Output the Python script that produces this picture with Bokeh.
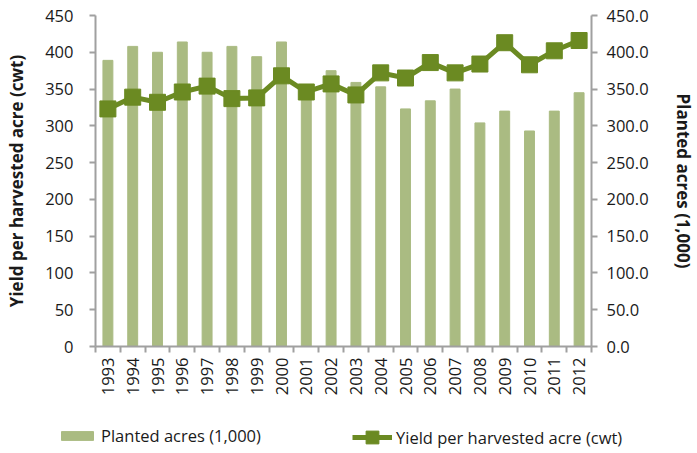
from bokeh.plotting import figure
from bokeh.layouts import column
from bokeh.models import (Range1d, LinearAxis, FixedTicker, NumeralTickFormatter,
                          Legend, LegendItem, ColumnDataSource)
from bokeh.embed import file_html
from bokeh.resources import INLINE
import math

years = [1993, 1994, 1995, 1996, 1997, 1998, 1999, 2000, 2001, 2002,
         2003, 2004, 2005, 2006, 2007, 2008, 2009, 2010, 2011, 2012]
planted_acres = [389, 408, 400, 414, 400, 408, 394, 414, 345, 375,
                 359, 353, 323, 334, 350, 304, 320, 293, 320, 345]
yield_cwt = [323, 339, 332, 346, 354, 337, 338, 368, 346, 357,
             342, 372, 365, 386, 372, 384, 413, 383, 402, 416]
y_ticks = [0, 50, 100, 150, 200, 250, 300, 350, 400, 450]
series_names = ["Planted acres (1,000)", "Yield per harvested acre (cwt)"]

FONT = "Open Sans"
BAR = "#AABB82"
LINE = "#6B8A22"
AX = "#A0A0A0"
TXT = "#1a1a1a"
TICK_FS = "16.5px"
LAB_FS = "17px"

src = ColumnDataSource(dict(year=years, acres=planted_acres, yld=yield_cwt))

p = figure(width=697, height=405, output_backend="svg", toolbar_location=None,
           x_range=Range1d(years[0] - 0.5, years[-1] + 0.5),
           y_range=Range1d(0, 450),
           min_border_left=95, min_border_right=102, min_border_top=15, min_border_bottom=59)
p.frame_align = False
p.outline_line_color = None
p.xgrid.grid_line_color = None
p.ygrid.grid_line_color = None

p.extra_y_ranges = {"acres": Range1d(0, 450)}

p.vbar(x="year", top="acres", width=0.4, source=src, y_range_name="acres",
       fill_color=BAR, line_color=BAR)
p.line(x="year", y="yld", source=src, line_color=LINE, line_width=5)
p.scatter(x="year", y="yld", source=src, marker="square", size=16,
          fill_color=LINE, line_color=LINE)

# x axis
xa = p.xaxis[0]
xa.ticker = FixedTicker(ticks=years, minor_ticks=[y - 0.5 for y in years] + [years[-1] + 0.5])
xa.major_label_orientation = math.pi / 2
xa.major_tick_out = 0
xa.major_tick_in = 0
xa.minor_tick_out = 6
xa.minor_tick_in = 0
xa.minor_tick_line_color = AX
xa.minor_tick_line_width = 2
xa.axis_line_color = AX
xa.axis_line_width = 2
xa.major_label_text_font = FONT
xa.major_label_text_font_size = TICK_FS
xa.major_label_text_color = TXT
xa.major_label_standoff = 5

# left axis
ya = p.yaxis[0]
ya.ticker = FixedTicker(ticks=y_ticks)
ya.axis_label = "Yield per harvested acre (cwt)"
ya.axis_label_text_font = FONT
ya.axis_label_text_font_style = "bold"
ya.axis_label_text_font_size = LAB_FS
ya.axis_label_text_color = TXT
ya.axis_label_standoff = 14
ya.major_label_text_font = FONT
ya.major_label_text_font_size = TICK_FS
ya.major_label_text_color = TXT
ya.major_label_standoff = 16
ya.major_tick_out = 6
ya.major_tick_in = 0
ya.minor_tick_out = 0
ya.minor_tick_in = 0
ya.major_tick_line_color = AX
ya.major_tick_line_width = 2
ya.axis_line_color = AX
ya.axis_line_width = 2

# right axis
ra = LinearAxis(y_range_name="acres", ticker=FixedTicker(ticks=y_ticks),
                formatter=NumeralTickFormatter(format="0.0"))
ra.axis_label = "Planted acres (1,000)"
ra.axis_label_text_font = FONT
ra.axis_label_text_font_style = "bold"
ra.axis_label_text_font_size = LAB_FS
ra.axis_label_text_color = TXT
ra.axis_label_standoff = 20
ra.major_label_text_font = FONT
ra.major_label_text_font_size = TICK_FS
ra.major_label_text_color = TXT
ra.major_label_standoff = 9
ra.major_tick_out = 6
ra.major_tick_in = 0
ra.minor_tick_out = 0
ra.minor_tick_in = 0
ra.major_tick_line_color = AX
ra.major_tick_line_width = 2
ra.axis_line_color = AX
ra.axis_line_width = 2
p.add_layout(ra, "right")

# legend strip below the chart (its glyphs fall outside its own ranges)
lg = figure(width=697, height=48, output_backend="svg", toolbar_location=None,
            x_range=Range1d(0, 1), y_range=Range1d(0, 1),
            x_axis_location=None, y_axis_location=None,
            min_border_left=0, min_border_right=0, min_border_top=0, min_border_bottom=0)
lg.frame_align = False
lg.grid.visible = False
lg.outline_line_color = None
lb = lg.vbar(x="year", top="acres", width=0.4, source=src, fill_color=BAR, line_color=BAR)
ll = lg.line(x="year", y="yld", source=src, line_color=LINE, line_width=5)
lm = lg.scatter(x="year", y="yld", source=src, marker="square", size=14,
                fill_color=LINE, line_color=LINE)
common = dict(orientation="horizontal", label_standoff=4, glyph_width=40,
              label_text_font=FONT, label_text_font_size=TICK_FS,
              label_text_color=TXT, border_line_color=None,
              background_fill_alpha=0, padding=0, margin=0)
leg1 = Legend(items=[LegendItem(label=series_names[0], renderers=[lb])],
              location=(57, 6), glyph_height=11, **common)
leg2 = Legend(items=[LegendItem(label=series_names[1], renderers=[ll, lm])],
              location=(352, 0), glyph_height=32, **common)
lg.add_layout(leg1, "center")
lg.add_layout(leg2, "center")

layout = column(p, lg, spacing=0)
open("out.html", "w").write(file_html(layout, INLINE))
